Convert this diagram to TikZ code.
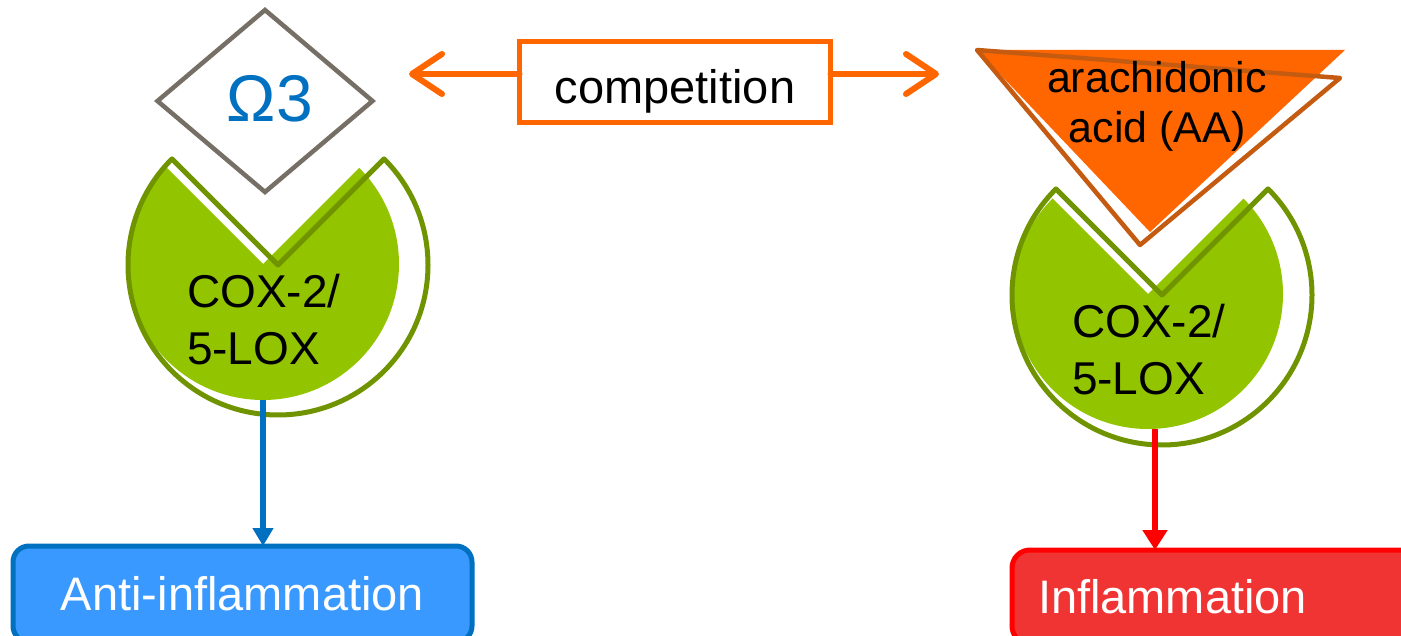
\documentclass[tikz,border=0pt]{standalone}
\usepackage{fontspec}
\setmainfont{Liberation Sans}
\usetikzlibrary{arrows.meta,shapes.geometric}
\definecolor{gfill}{RGB}{146,196,0}
\definecolor{gline}{RGB}{112,148,0}
\definecolor{orng}{RGB}{255,102,0}
\definecolor{orngdark}{RGB}{197,90,17}
\definecolor{dgray}{RGB}{118,111,101}
\definecolor{blueline}{RGB}{0,112,192}
\definecolor{bluefill}{RGB}{57,153,255}
\definecolor{redfill}{RGB}{240,52,52}
\definecolor{redline}{RGB}{255,0,0}
\begin{document}
\begin{tikzpicture}[x=1pt,y=1pt,
  lbl/.style={font=\fontsize{46}{57}\selectfont, inner sep=0pt, outer sep=0pt},
  pacfill/.style={fill=gfill},
  pacline/.style={draw=gline, line width=5pt, line join=round},
  ghost/.style={circle, inner sep=0pt, outer sep=0pt, minimum size=#1},
  orarr/.style={draw=orng, line width=6pt, line cap=round, -{Straight Barb[length=30pt,width=40pt,line cap=round,line join=round]}},
  bluearr/.style={draw=blueline, line width=6pt, -{Triangle[length=18pt,width=20pt]}},
  redarr/.style={draw=redline, line width=6pt, -{Triangle[length=20pt,width=24pt]}},
  resbox/.style={line width=5pt, outer sep=0pt, text=white, font=\fontsize{47}{56}\selectfont}
]
\clip (0,0) rectangle (1401,-636);
\useasboundingbox (0,0) rectangle (1401,-636);

% left enzyme
\node[ghost=272pt] (lpac) at (263,-264) {};
\fill[pacfill] (263,-264) -- ++(135:136) arc[start angle=135,end angle=405,radius=136] -- cycle;
\draw[pacline] (278,-265) -- ++(135:150) arc[start angle=135,end angle=405,radius=150] -- cycle;
\node[lbl, align=left, anchor=base west] (lcox) at (187,-365) {COX-2/\\5-LOX};

% omega-3 diamond
\node[diamond, draw=dgray, line width=4.5pt, minimum width=215pt, minimum height=182pt,
      inner sep=0pt, outer sep=0pt] (omega) at (265,-101) {};
\node[text=blueline, font=\fontsize{66}{72}\selectfont, inner sep=0pt, anchor=base] (om) at (270,-122) {Ω3};

% right enzyme
\node[ghost=270pt] (rpac) at (1148,-294) {};
\fill[pacfill] (1148,-294) -- ++(135:135) arc[start angle=135,end angle=405,radius=135] -- cycle;
\draw[pacline] (1162,-295) -- ++(135:150) arc[start angle=135,end angle=405,radius=150] -- cycle;
\node[lbl, align=left, anchor=base west] (rcox) at (1072,-395) {COX-2/\\5-LOX};

% arachidonic acid triangle
\fill[orng] (977,-50) -- (1345,-50) -- (1150,-232) -- cycle;
\draw[orngdark, line width=4.5pt, line join=round] (977,-50) -- (1340,-78) -- (1140,-245) -- cycle;
\node[inner sep=0pt, align=center, anchor=base, font=\fontsize{43}{50}\selectfont] (aa) at (1157,-143) {arachidonic\\acid (AA)};

% competition
\node[draw=orng, line width=5pt, minimum width=311pt, minimum height=81pt, outer sep=0pt,
      text height=43pt, text depth=0pt, font=\fontsize{47}{56}\selectfont] (comp) at (675,-82) {competition};
\coordinate (ltip) at (409,-74);
\coordinate (rtip) at (939,-74);
\draw[orarr] (comp.west |- ltip) -- (ltip);
\draw[orarr] (comp.east |- rtip) -- (rtip);

% result boxes
\node[resbox, draw=blueline, fill=bluefill, rounded corners=16pt, minimum width=459pt,
      minimum height=96pt, anchor=north west] (anti) at (13,-546) {Anti-inflammation};
\node[resbox, draw=redline, fill=redfill, rounded corners=18pt, text width=368pt, align=left,
      inner xsep=26pt, minimum height=94pt, anchor=north west] (infl) at (1012,-550) {Inflammation};

% arrows
\draw[bluearr] (lpac.south) -- (lpac.south |- anti.north);
\draw[redarr] ([xshift=7pt]rpac.south) -- ([xshift=7pt]rpac.south |- infl.north);
\end{tikzpicture}
\end{document}
